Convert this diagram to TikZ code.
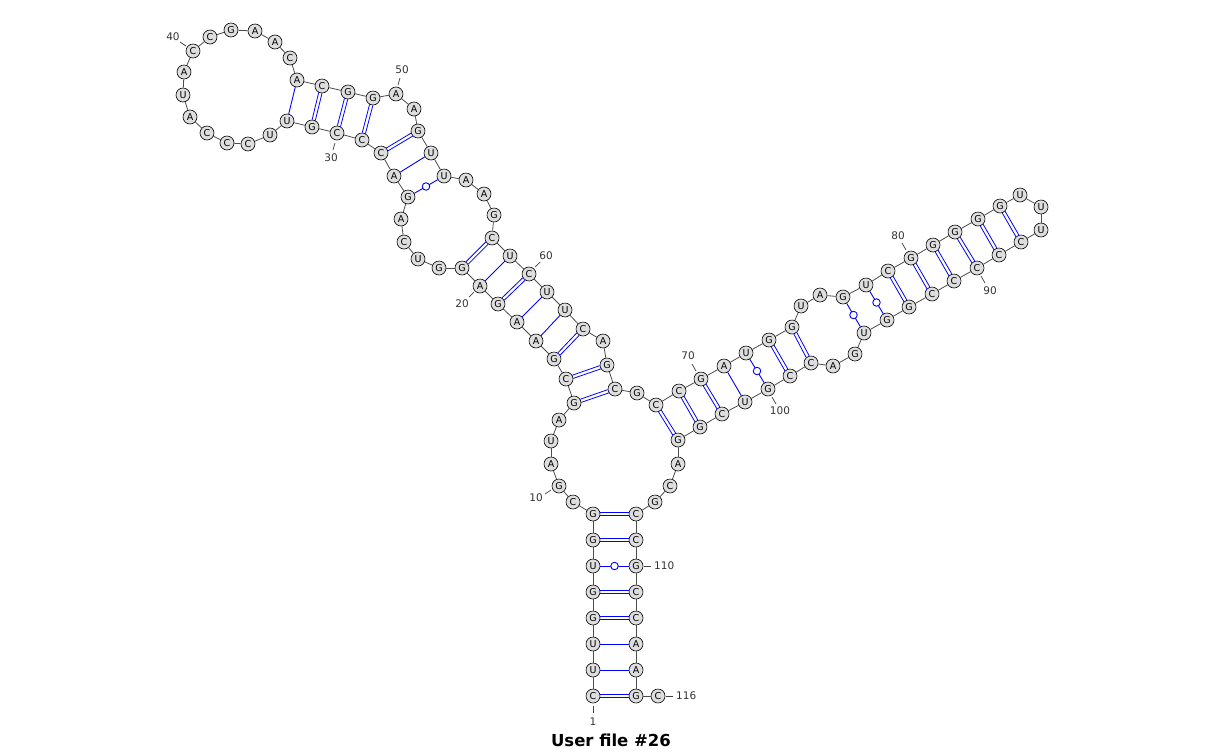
\documentclass[tikz,border=0pt]{standalone}
\usepackage{fontspec}
\setmainfont{DejaVu Sans}
\usetikzlibrary{calc}
\begin{document}
\begin{tikzpicture}[x=1pt,y=-1pt,
  nt/.style={circle,draw=black,line width=0.6pt,fill=black!13,minimum size=14pt,inner sep=0pt,font=\fontsize{9.5}{9.5}\selectfont},
  bb/.style={draw=black!70,line width=0.8pt},
  wc/.style={draw=blue,line width=0.8pt},
  au/.style={draw=blue,line width=0.9pt},
  gu/.style={draw=blue,line width=0.9pt},
  gucirc/.style={circle,draw=blue,line width=0.9pt,fill=white,minimum size=7.5pt,inner sep=0pt},
  lab/.style={font=\fontsize{10.5}{10.5}\selectfont,text=black!80,inner sep=0pt},
  tick/.style={draw=black!75,line width=0.7pt},
  ttl/.style={font=\bfseries\fontsize{16.5}{16.5}\selectfont,inner sep=0pt}]
\useasboundingbox (0,0) rectangle (1223,753);
\foreach \i/\x/\y/\b in {
1/593/696/C,2/593/670/U,3/593/644/U,4/593/618/G,5/593/592/G,6/593/566/U,7/593/540/G,8/593/514/G,
9/573/502/C,10/559/486/G,11/551/464/A,12/551/441/U,13/559/420/A,14/574/403/G,15/566/379/C,16/554/359/G,
17/536/341/A,18/517/322/A,19/498/304/G,20/480/286/A,21/462/268/G,22/439/268/G,23/418/259/U,24/404/242/C,
25/401/219/A,26/408/197/G,27/394/176/A,28/381/153/C,29/362/140/C,30/337/133/C,31/312/127/G,32/287/121/U,
33/270/135/U,34/248/144/C,35/227/143/C,36/207/133/C,37/190/117/A,38/183/95/U,39/184/72/A,40/193/51/C,
41/210/37/C,42/231/30/G,43/255/31/A,44/275/42/A,45/290/58/C,46/297/80/A,47/322/86/C,48/348/92/G,
49/373/98/G,50/396/94/A,51/414/109/A,52/418/131/G,53/431/153/U,54/444/176/U,55/466/180/A,56/484/194/A,
57/494/215/G,58/492/238/C,59/510/256/U,60/529/274/C,61/547/292/U,62/565/310/U,63/583/329/C,64/603/341/A,
65/607/365/G,66/615/389/C,67/637/393/G,68/656/405/C,69/679/391/C,70/701/379/G,71/724/366/A,72/746/353/U,
73/769/340/G,74/792/327/G,75/801/306/U,76/820/295/A,77/843/297/G,78/866/285/U,79/888/271/C,80/911/258/G,
81/933/245/G,82/955/232/G,83/978/219/G,84/1000/206/G,85/1020/195/U,86/1041/207/U,87/1041/230/U,88/1021/242/C,
89/999/255/C,90/977/268/C,91/954/281/C,92/932/294/C,93/909/307/G,94/887/320/G,95/864/333/U,96/855/354/G,
97/833/366/A,98/811/363/C,99/790/376/C,100/768/389/G,101/745/402/U,102/722/414/C,103/700/427/G,104/678/440/G,
105/678/464/A,106/670/486/C,107/655/502/G,108/636/514/C,109/636/540/C,110/636/566/G,111/636/592/C,112/636/618/C,
113/636/644/A,114/636/670/A,115/636/696/G,116/658/696/C}
  {\node[nt] (n\i) at (\x,\y) {\b};}
\foreach \i in {1,...,115}{\pgfmathtruncatemacro\j{\i+1}\draw[bb] (n\i) -- (n\j);}
% Watson-Crick GC pairs: two parallel lines
\foreach \a/\b in {1/115,4/112,5/111,7/109,8/108,14/66,15/65,16/63,19/60,21/58,28/52,29/49,30/48,31/47,
  68/104,69/103,70/102,73/99,74/98,79/93,80/92,81/91,82/90,83/89,84/88}
  {\path let \p1=(n\a.center), \p2=(n\b.center), \n1={atan2(\y2-\y1,\x2-\x1)} in
     [draw=blue,line width=0.8pt] (n\a.{\n1+13}) -- (n\b.{\n1+167})
     (n\a.{\n1-13}) -- (n\b.{\n1-167});}
% AU pairs
\foreach \a/\b in {2/114,3/113,17/62,18/61,20/59,27/53,32/46,71/101}
  {\draw[au] (n\a) -- (n\b);}
% GU pairs
\foreach \a/\b in {6/110,26/54,72/100,77/95,78/94}
  {\draw[gu] (n\a) -- (n\b) node[gucirc,midway] (g\a) {};}
% numbering
\node[lab] (l1) at (593,722) {1};
\draw[tick] (593,706) -- (593,713);
\node[lab] (l10) at (536,498) {10};
\draw[tick] (545,494) -- (551,490);
\node[lab] (l20) at (462,304) {20};
\draw[tick] (469,297) -- (474,292);
\node[lab] (l30) at (331,158) {30};
\draw[tick] (333,150) -- (335,143);
\node[lab] (l40) at (173,37) {40};
\draw[tick] (180,42) -- (186,46);
\node[lab] (l50) at (402,70) {50};
\draw[tick] (400,78) -- (398,85);
\node[lab] (l60) at (546,256) {60};
\draw[tick] (540,262) -- (535,267);
\node[lab] (l70) at (688,356) {70};
\draw[tick] (692,364) -- (696,371);
\node[lab] (l80) at (898,236) {80};
\draw[tick] (902,243) -- (906,250);
\node[lab] (l90) at (990,291) {90};
\draw[tick] (985,283) -- (981,276);
\node[lab] (l100) at (780,411) {100};
\draw[tick] (776,404) -- (772,397);
\node[lab,anchor=west] (l110) at (654,566) {110};
\draw[tick] (644,566) -- (651,566);
\node[lab,anchor=west] (l116) at (676,696) {116};
\draw[tick] (666,696) -- (673,696);
\node[ttl] (title) at (611,740) {User file \#26};
\end{tikzpicture}
\end{document}
